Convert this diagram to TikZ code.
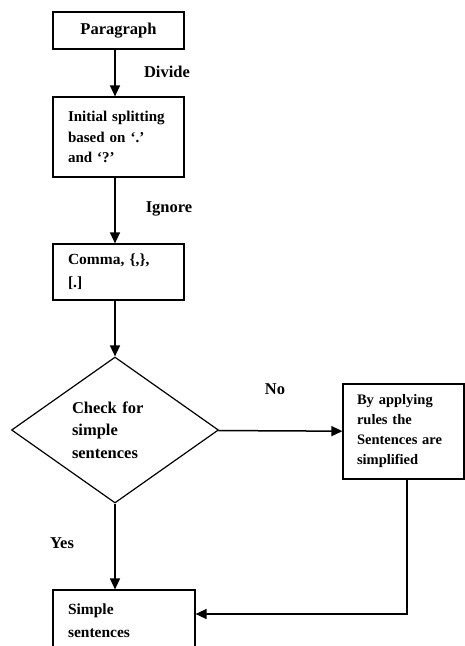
\documentclass[tikz,border=0pt]{standalone}
\usepackage{fontspec}
\setmainfont{Liberation Serif}
\usetikzlibrary{shapes.geometric, arrows.meta}

\begin{document}
\begin{tikzpicture}[x=1pt, y=-1pt,
        box/.style={draw, line width=1.2pt, align=left, inner xsep=15pt, inner ysep=0pt,
            font=\bfseries\fontsize{15}{20.5}\selectfont},
        lbl/.style={inner sep=0pt, font=\bfseries\fontsize{16.5}{20}\selectfont},
        arr/.style={line width=1.5pt, -{Triangle[length=11pt, width=10pt]}}]
        \useasboundingbox (0,0) rectangle (464,646);
        \node[box, align=center, minimum width=131pt, minimum height=37pt,
            font=\bfseries\fontsize{16.5}{20}\selectfont] (para) at (118.5,30.5) {Paragraph};
        \node[box, text width=101pt, minimum height=80pt] (init) at (118.5,137)
            {Initial splitting\\based on `.'\\and `?'};
        \node[box, text width=101pt, minimum height=56pt, font=\bfseries\fontsize{15.5}{23}\selectfont]
            (comma) at (118.5,272) {Comma, \{,\},\\{}[.]};
        \node[draw, diamond, line width=1.2pt, aspect=1.42, minimum width=207pt, minimum height=146pt,
            inner sep=0pt, text width=86pt, align=left,
            font=\bfseries\fontsize{16.5}{22.5}\selectfont] (check) at (115,430)
            {Check for\\simple\\sentences};
        \node[box, text width=93pt, inner xsep=14pt, minimum height=95pt, font=\bfseries\fontsize{14.5}{20}\selectfont]
            (rule) at (403.5,431.5) {By applying\\rules the\\Sentences are\\simplified};
        \node[box, text width=112pt, minimum height=61pt, font=\bfseries\fontsize{15.5}{23}\selectfont]
            (simple) at (124,620.5) {Simple\\sentences};
        % labels
        \node[lbl] (divlbl) at (167,72) {Divide};
        \node[lbl] (ignlbl) at (169,209) {Ignore};
        \node[lbl] (nolbl) at (275,389) {No};
        \node[lbl] (yeslbl) at (62,543) {Yes};
        % arrows
        \draw[arr] (para.south -| check.north) -- (init.north -| check.north);
        \draw[arr] (init.south -| check.north) -- (comma.north -| check.north);
        \draw[arr] (comma.south -| check.north) -- (check.north);
        \draw[arr] (check) -- (rule);
        \draw[arr] (check.south) -- (check.south |- simple.north);
        \draw[arr] ([xshift=3.5pt]rule.south) |- ([yshift=6.5pt]simple.east);
    \end{tikzpicture}
\end{document}
